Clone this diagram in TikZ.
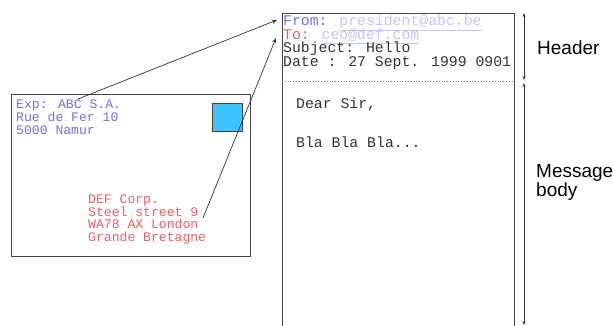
\documentclass[tikz,border=0pt]{standalone}
\usepackage{fontspec}
\setmainfont{Liberation Sans}
\newfontfamily\monofam{Liberation Mono}
\usetikzlibrary{arrows.meta}
\definecolor{bluetxt}{HTML}{6E6EFF}
\definecolor{redtxt}{HTML}{FF5A5A}
\definecolor{linktxt}{HTML}{C4C4FF}
\definecolor{stampfill}{HTML}{3CC4FF}
\definecolor{darktxt}{HTML}{333333}
\definecolor{framecol}{HTML}{444444}
\begin{document}
\begin{tikzpicture}[x=1pt,y=-1pt,
  frame/.style={draw=framecol,line width=0.9pt},
  hdrtxt/.style={anchor=base west,inner sep=0pt,font=\monofam\fontsize{14.8}{14}\selectfont},
  envtxt/.style={anchor=base west,inner sep=0pt,font=\monofam\fontsize{13.1}{13}\selectfont},
  lbltxt/.style={anchor=base west,inner sep=0pt,font=\fontsize{19}{19}\selectfont},
  pointer/.style={draw=darktxt,line width=0.7pt,-{Stealth[length=5pt,width=4pt]}},
  span/.style={draw=darktxt,line width=0.7pt,{Stealth[length=4pt,width=3pt]}-{Stealth[length=4pt,width=3pt]}}]
\useasboundingbox (0,0) rectangle (613,326);
\clip (0,0) rectangle (613,326);
% envelope
\draw[frame] (11,94) rectangle (250,256);
\node[frame,fill=stampfill,minimum width=30pt,minimum height=28pt,inner sep=0pt,anchor=north west] (stamp) at (212,103) {};
\node[envtxt,text=bluetxt] (exp1) at (16,109) {Exp: ABC S.A.};
\node[envtxt,text=bluetxt] (exp2) at (16,122) {Rue de Fer 10};
\node[envtxt,text=bluetxt] (exp3) at (16,135) {5000 Namur};
\node[envtxt,text=redtxt] (dst1) at (88,203) {DEF Corp.};
\node[envtxt,text=redtxt] (dst2) at (88,216) {Steel street 9};
\node[envtxt,text=redtxt] (dst3) at (88,228.5) {WA78 AX London};
\node[envtxt,text=redtxt] (dst4) at (88,241) {Grande Bretagne};
% message
\draw[frame] (282,13) -- (514,13);
\draw[frame] (282,13) -- (282,330);
\draw[frame] (514,13) -- (514,330);
\draw[draw=framecol!70,line width=0.8pt,dotted] (282,81) -- (514,81);
\node[hdrtxt,text=bluetxt] (from) at (283,26) {From: \textcolor{linktxt}{\underline{president@abc.be}}};
\node[hdrtxt,text=redtxt] (to) at (283,39.5) {To: \textcolor{linktxt}{\underline{ceo@def.com}}};
\node[hdrtxt,text=darktxt] (subj) at (283,53) {Subject: Hello};
\node[hdrtxt,text=darktxt] (date) at (283,67) {Date : 27 Sept. 1999 0901};
\node[hdrtxt,text=darktxt] (dear) at (296,109) {Dear Sir,};
\node[hdrtxt,text=darktxt] (bla) at (296,148) {Bla Bla Bla...};
% pointers
\coordinate (expA) at (78,99);
\coordinate (fromA) at (277,20);
\coordinate (dstA) at (203,218);
\coordinate (toA) at (276,38);
\draw[pointer] (expA) -- (fromA);
\draw[pointer] (dstA) -- (toA);
% spans
\coordinate (h1) at (524,13);
\coordinate (h2) at (524,80);
\coordinate (b1) at (524,83);
\coordinate (b2) at (524,325);
\draw[span] (h1) -- (h2);
\draw[span] (b1) -- (b2);
\node[lbltxt] (hdr) at (537,55) {Header};
\node[lbltxt] (msg) at (536,178) {Message};
\node[lbltxt] (bdy) at (536,196) {body};
\end{tikzpicture}
\end{document}
